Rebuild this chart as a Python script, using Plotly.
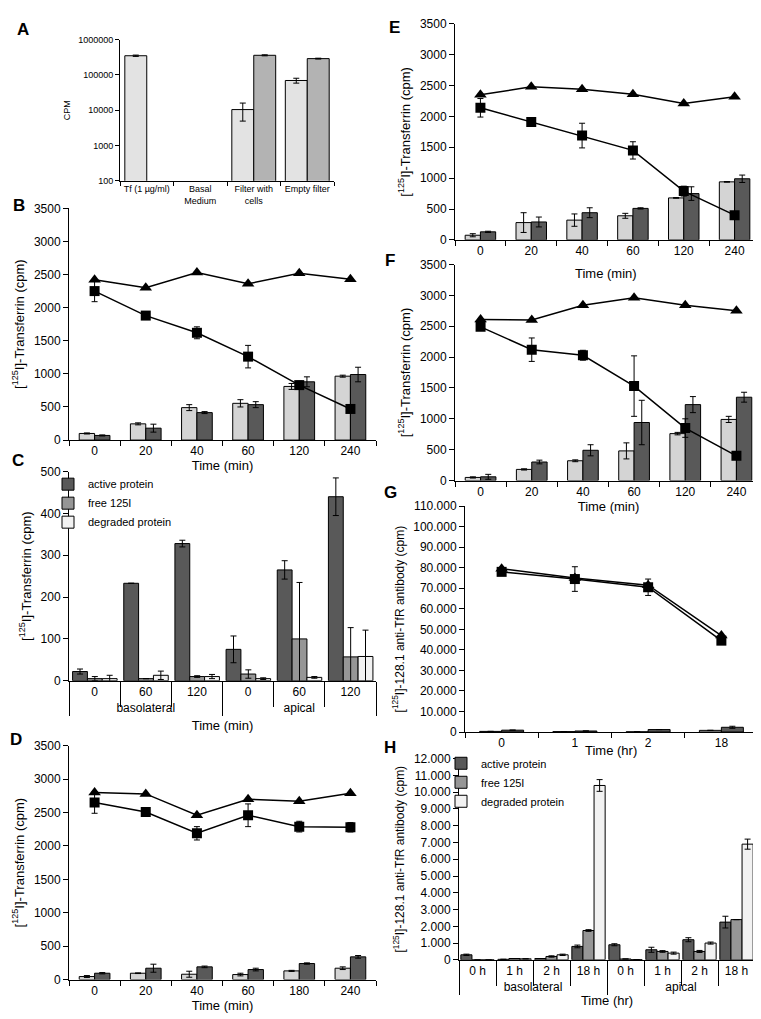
import plotly.graph_objects as go

W, H = 761, 1019

# ---------------- data ----------------
# A
a_cats = ["Tf (1 µg/ml)", "Basal<br>Medium", "Filter with<br>cells", "Empty filter"]
a_light = [350000, None, 10400, 69500]
a_light_err = [15000, 0, 5500, 11000]
a_dark = [None, None, 360000, 290000]
a_dark_err = [0, 0, 12000, 8000]

# B
b_times = ["0", "20", "40", "60", "120", "240"]
b_light = [100, 245, 490, 555, 810, 965]
b_light_err = [8, 15, 45, 55, 45, 15]
b_dark = [70, 180, 415, 535, 880, 990]
b_dark_err = [8, 60, 15, 45, 75, 110]
b_tri = [2420, 2300, 2530, 2360, 2520, 2430]
b_sq = [2250, 1880, 1620, 1260, 830, 470]
b_sq_err = [160, 50, 90, 170, 60, 0]

# C
c_side = ["basolateral"] * 3 + ["apical"] * 3
c_time = ["0", "60", "120"] * 2
c_active = [22, 233, 328, 75, 265, 440]
c_active_err = [6, 0, 8, 32, 22, 45]
c_free = [5, 5, 10, 16, 100, 57]
c_free_err = [5, 0, 2, 10, 135, 70]
c_degr = [5, 13, 10, 5, 8, 58]
c_degr_err = [8, 10, 5, 2, 2, 63]

# D
d_times = ["0", "20", "40", "60", "180", "240"]
d_light = [45, 95, 80, 75, 130, 170]
d_light_err = [15, 5, 45, 20, 8, 20]
d_dark = [95, 170, 190, 150, 240, 340]
d_dark_err = [10, 60, 12, 20, 10, 20]
d_tri = [2800, 2780, 2460, 2700, 2670, 2790]
d_sq = [2650, 2510, 2190, 2460, 2290, 2280]
d_sq_err = [160, 0, 100, 170, 80, 70]

# E
e_times = ["0", "20", "40", "60", "120", "240"]
e_light = [75, 280, 320, 390, 680, 940]
e_light_err = [25, 160, 100, 40, 5, 5]
e_dark = [130, 290, 440, 510, 750, 990]
e_dark_err = [10, 80, 80, 10, 110, 60]
e_tri = [2350, 2480, 2440, 2360, 2210, 2320]
e_sq = [2140, 1910, 1690, 1450, 790, 400]
e_sq_err = [150, 0, 200, 140, 80, 0]

# F
f_times = ["0", "20", "40", "60", "120", "240"]
f_light = [50, 180, 320, 480, 760, 990]
f_light_err = [10, 10, 15, 130, 20, 50]
f_dark = [60, 300, 490, 940, 1230, 1350]
f_dark_err = [40, 30, 90, 360, 130, 80]
f_tri = [2610, 2600, 2840, 2960, 2840, 2750]
f_sq = [2490, 2120, 2030, 1530, 850, 400]
f_sq_err = [0, 190, 80, 490, 150, 0]

# G
g_times = ["0", "1", "2", "18"]
g_light = [300, 200, 100, 800]
g_dark = [900, 500, 1200, 2300]
g_dark_err = [0, 0, 0, 500]
g_tri = [79500, 75000, 71500, 47000]
g_sq = [78000, 74500, 70500, 44500]
g_sq_err = [1500, 6000, 4000, 1000]

# H
h_side = ["basolateral"] * 4 + ["apical"] * 4
h_time = ["0 h", "1 h", "2 h", "18 h"] * 2
h_active = [300, 30, 80, 800, 900, 600, 1200, 2250]
h_active_err = [40, 0, 0, 80, 60, 150, 120, 350]
h_free = [0, 80, 200, 1750, 50, 500, 500, 2400]
h_free_err = [0, 0, 40, 50, 0, 50, 60, 0]
h_degr = [0, 60, 300, 10400, 20, 400, 1000, 6900]
h_degr_err = [0, 0, 40, 350, 0, 60, 60, 300]

# ---------------- styling helpers ----------------
FONT = "Liberation Sans, Arial, sans-serif"
LIGHT = "#d4d4d4"
DARK = "#595959"
MID = "#969696"
WHITE = "#f2f2f2"


def xdom(l, r):
    return [l / W, r / W]


def ydom(t, b):
    return [1 - b / H, 1 - t / H]


def bar(x, y, err, color, off, wid, ax, name=None, legend="legend"):
    return go.Bar(
        x=x, y=y, width=wid, offset=off,
        xaxis="x" + ax, yaxis="y" + ax,
        marker=dict(color=color, line=dict(color="black", width=1)),
        error_y=dict(type="data", array=err, color="black", thickness=1, width=3),
        name=name, showlegend=name is not None, legend=legend,
    )


def line(x, y, err, symbol, size, ax):
    return go.Scatter(
        x=x, y=y, mode="lines+markers", xaxis="x" + ax, yaxis="y" + ax,
        line=dict(color="black", width=1.5),
        marker=dict(symbol=symbol, size=size, color="black"),
        error_y=dict(type="data", array=err if err else [0] * len(y),
                     color="black", thickness=1, width=3),
        showlegend=False,
    )


fig = go.Figure()

# A
fig.add_trace(bar(a_cats, a_light, a_light_err, "#e3e3e3", -0.41, 0.41, ""))
fig.add_trace(bar(a_cats, a_dark, a_dark_err, "#b3b3b3", 0, 0.41, ""))

# B, D, E, F (time course panels)
for ax, t, lt, lte, dk, dke, tri, sq, sqe in [
    ("2", b_times, b_light, b_light_err, b_dark, b_dark_err, b_tri, b_sq, b_sq_err),
    ("4", d_times, d_light, d_light_err, d_dark, d_dark_err, d_tri, d_sq, d_sq_err),
    ("5", e_times, e_light, e_light_err, e_dark, e_dark_err, e_tri, e_sq, e_sq_err),
    ("6", f_times, f_light, f_light_err, f_dark, f_dark_err, f_tri, f_sq, f_sq_err),
]:
    fig.add_trace(bar(t, lt, lte, LIGHT, -0.3, 0.3, ax))
    fig.add_trace(bar(t, dk, dke, DARK, 0, 0.3, ax))
    fig.add_trace(line(t, tri, None, "triangle-up", 11, ax))
    fig.add_trace(line(t, sq, sqe, "square", 10, ax))

# C
c_x = [c_side, c_time]
fig.add_trace(bar(c_x, c_active, c_active_err, DARK, -0.43, 0.29, "3", "active protein", "legend"))
fig.add_trace(bar(c_x, c_free, c_free_err, MID, -0.14, 0.29, "3", "free 125I", "legend"))
fig.add_trace(bar(c_x, c_degr, c_degr_err, WHITE, 0.15, 0.29, "3", "degraded protein", "legend"))

# G
fig.add_trace(bar(g_times, g_light, [0] * 4, LIGHT, -0.3, 0.3, "7"))
fig.add_trace(bar(g_times, g_dark, g_dark_err, DARK, 0, 0.3, "7"))
fig.add_trace(line(g_times, g_tri, None, "triangle-up", 11, "7"))
fig.add_trace(line(g_times, g_sq, g_sq_err, "square", 10, "7"))

# H
h_x = [h_side, h_time]
fig.add_trace(bar(h_x, h_active, h_active_err, DARK, -0.45, 0.3, "8", "active protein", "legend2"))
fig.add_trace(bar(h_x, h_free, h_free_err, MID, -0.15, 0.3, "8", "free 125I", "legend2"))
fig.add_trace(bar(h_x, h_degr, h_degr_err, WHITE, 0.15, 0.3, "8", "degraded protein", "legend2"))


def xaxis(l, r, anchor, title=None, size=12, standoff=2, **kw):
    d = dict(domain=xdom(l, r), anchor=anchor, type="category",
             showline=True, linecolor="black", linewidth=1,
             ticks="outside", ticklen=5, tickcolor="black", tickson="boundaries",
             showgrid=False, zeroline=False, tickangle=0,
             tickfont=dict(size=size, color="black"))
    if title:
        d["title"] = dict(text=title, font=dict(size=13), standoff=standoff)
    d.update(kw)
    return d


def yaxis(t, b, anchor, rng, title, size=12, tsize=13, **kw):
    d = dict(domain=ydom(t, b), anchor=anchor, range=rng,
             showline=True, linecolor="black", linewidth=1,
             ticks="outside", ticklen=5, tickcolor="black",
             showgrid=False, zeroline=False, tickfont=dict(size=size, color="black"),
             title=dict(text=title, font=dict(size=tsize), standoff=6))
    d.update(kw)
    return d


TF = "[<sup>125</sup>I]-Transferrin (cpm)"
AB = "[<sup>125</sup>I]-128.1 anti-TfR antibody (cpm)"
g_ticks = list(range(0, 110001, 10000))
h_ticks = list(range(0, 12001, 1000))


def dotted(v):
    return f"{v:,}".replace(",", ".") if v else "0"


layout = dict(
    xaxis=xaxis(112, 326, "y", size=9, ticklen=4),
    yaxis=yaxis(25, 168, "x", [2, 6], "CPM", size=9, tsize=9, type="log",
                tickvals=[100, 1000, 10000, 100000, 1000000],
                ticktext=["100", "1000", "10000", "100000", "1000000"], ticklen=4),
    xaxis2=xaxis(61, 368, "y2", "Time (min)"),
    yaxis2=yaxis(196, 431, "x2", [0, 3500], TF, dtick=500),
    xaxis3=xaxis(61, 368, "y3", "Time (min)", standoff=6, type="multicategory",
                 ticklen=25,
                 showdividers=True, dividercolor="black", dividerwidth=1),
    yaxis3=yaxis(463, 675, "x3", [0, 500], TF, dtick=100),
    xaxis4=xaxis(61, 368, "y4", "Time (min)"),
    yaxis4=yaxis(741, 978, "x4", [0, 3500], TF, dtick=500),
    xaxis5=xaxis(447, 752, "y5", None),
    yaxis5=yaxis(9, 228, "x5", [0, 3500], TF, dtick=500),
    xaxis6=xaxis(447, 754, "y6", "Time (min)"),
    yaxis6=yaxis(253, 472, "x6", [0, 3500], TF, dtick=500),
    xaxis7=xaxis(457, 750, "y7", None),
    yaxis7=yaxis(498, 727, "x7", [0, 110000], AB, tsize=12,
                 tickvals=g_ticks, ticktext=[dotted(v) for v in g_ticks]),
    xaxis8=xaxis(451, 747, "y8", "Time (hr)", standoff=2, type="multicategory",
                 ticklen=25,
                 showdividers=True, dividercolor="black", dividerwidth=1),
    yaxis8=yaxis(754, 958, "x8", [0, 12000], AB, tsize=12,
                 tickvals=h_ticks, ticktext=[dotted(v) for v in h_ticks]),
)

# E's and G's x titles sit over neighbouring content, as in the original
fig.add_annotation(text="Time (min)", x=598 / W, y=1 - 262 / H, xref="paper", yref="paper",
                   xanchor="center", yanchor="middle", showarrow=False, font=dict(size=13))
fig.add_annotation(text="Time (hr)", x=603 / W, y=1 - 746 / H, xref="paper", yref="paper",
                   xanchor="center", yanchor="middle", showarrow=False, font=dict(size=13))

for letter, px, py in [("A", 15, 15), ("B", 11, 193), ("C", 10, 452), ("D", 8, 735),
                       ("E", 386, 13), ("F", 382, 249), ("G", 382, 484), ("H", 382, 743)]:
    fig.add_annotation(text=f"<b>{letter}</b>", x=px / W, y=1 - py / H, xref="paper", yref="paper",
                       xanchor="center", yanchor="middle",
                       showarrow=False, font=dict(size=17, color="black"))

fig.update_layout(
    width=W, height=H, margin=dict(l=0, r=0, t=0, b=0),
    paper_bgcolor="white", plot_bgcolor="white",
    font=dict(family=FONT, color="black"),
    barmode="overlay",
    legend=dict(x=40 / W, y=1 - 461 / H, xanchor="left", yanchor="top",
                bgcolor="rgba(0,0,0,0)", font=dict(size=11), traceorder="normal",
                tracegroupgap=0),
    legend2=dict(x=433 / W, y=1 - 744 / H, xanchor="left", yanchor="top",
                 bgcolor="rgba(0,0,0,0)", font=dict(size=11), traceorder="normal",
                 tracegroupgap=0),
    **layout,
)

fig.write_html("out.html")
